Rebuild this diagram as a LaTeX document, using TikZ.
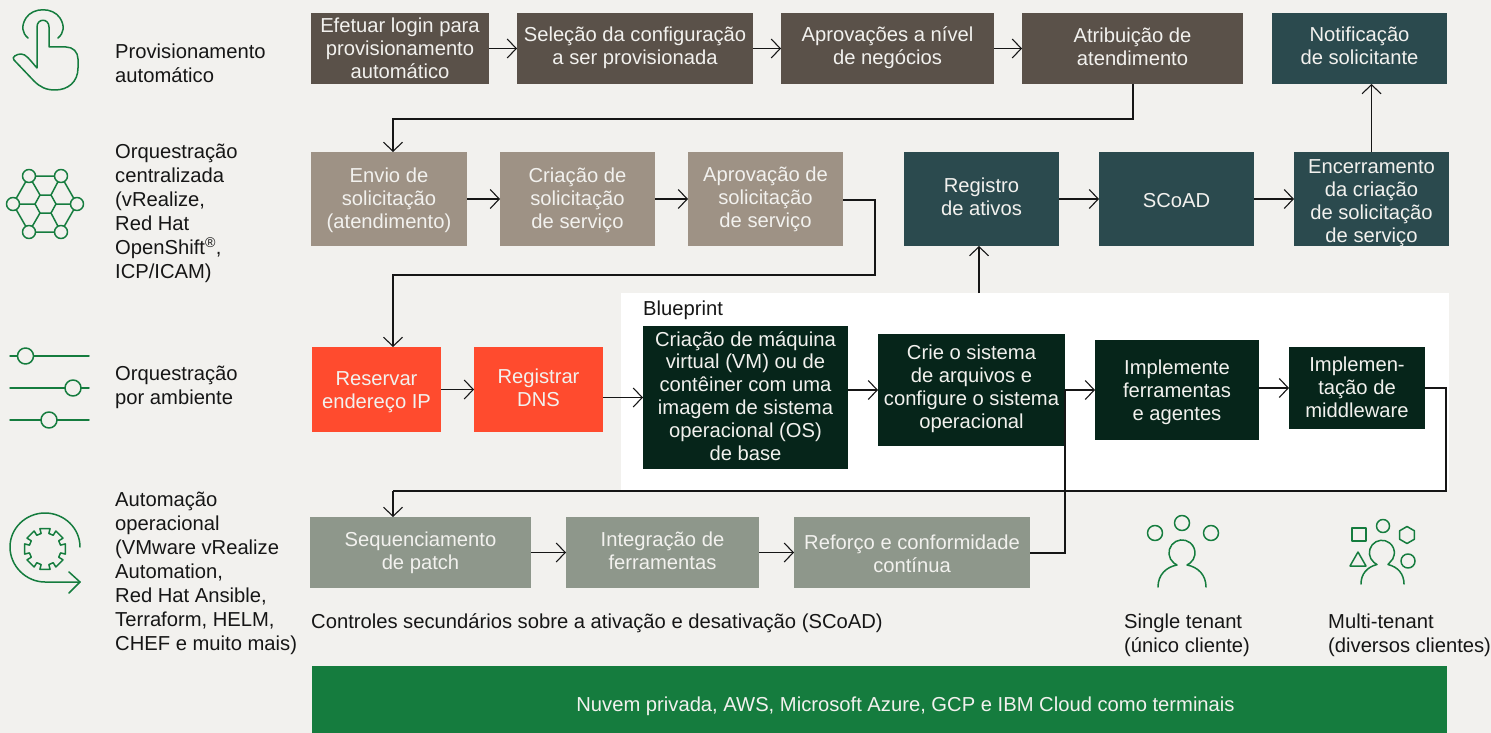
\documentclass[tikz,border=0pt]{standalone}
\usepackage{fontspec}
\setmainfont{Liberation Sans}
\usetikzlibrary{arrows.meta}
\definecolor{bgc}{HTML}{F2F1EE}
\definecolor{brownc}{HTML}{5A5149}
\definecolor{tealc}{HTML}{2B4A4E}
\definecolor{taupec}{HTML}{9E9285}
\definecolor{redc}{HTML}{FF4B2E}
\definecolor{darkc}{HTML}{06251A}
\definecolor{sagec}{HTML}{8E978B}
\definecolor{greenc}{HTML}{157C3E}
\definecolor{inkc}{HTML}{161616}
\tikzset{
  boxbase/.style={draw=none,inner sep=0pt,outer sep=0pt},
  boxtext/.style={align=center,text=#1,inner sep=0pt,font=\fontsize{20.2}{22.9}\selectfont},
  plain/.style={align=left,text=inkc,inner sep=0pt,anchor=west,font=\fontsize{20.2}{24}\selectfont},
  conn/.style={draw=inkc,line width=1.1pt},
  arr/.style={conn,-{Straight Barb[length=9pt,width=19pt,line width=1.1pt]}},
  icon/.style={draw=greenc,line width=1.5pt,line join=round,line cap=round},
}
% name, fill, x0, y0, x1, y1, text y offset (positive is up), text colour, text
\newcommand{\bx}[9]{%
  \node[boxbase,fill=#2,minimum width=#5pt-#3pt,minimum height=#6pt-#4pt,anchor=center] (#1) at ({(#3+#5)/2},{(#4+#6)/2}) {};
  \node[boxtext=#8] (#1t) at ([yshift=#7pt]#1.center) {#9};
}
\begin{document}
\begin{tikzpicture}[x=1pt,y=-1pt]
\useasboundingbox (0,0) rectangle (1491,733);
\fill[bgc] (0,0) rectangle (1491,733);
\fill[white] (621,293) rectangle (1449,490);

% icons
\draw[icon] (28,38) .. controls (22,33) and (21,26) .. (26,18) .. controls (33,7) and (53,7) .. (60,18) .. controls (65,26) and (64,33) .. (58,38);
\draw[icon] (37,68) -- (37,27) .. controls (37,18) and (49,18) .. (49,27) -- (49,47) -- (66,47) .. controls (73,47) and (78,52) .. (78,59) -- (78,68) .. controls (78,82) and (68,90) .. (55,90) .. controls (46,90) and (40,87) .. (34,81) -- (14,60) .. controls (11,57) and (17,54) .. (21,54) .. controls (26,54) and (29,59) .. (37,68);

\draw[icon] (29,176) -- (61,176) -- (77,204) -- (61,232) -- (29,232) -- (13,204) -- cycle;
\draw[icon] (40,195) -- (51,195) -- (56,204) -- (51,213) -- (40,213) -- (35,204) -- cycle;
\draw[icon] (29,176) -- (40,195) (61,176) -- (51,195) (13,204) -- (35,204) (77,204) -- (56,204) (29,232) -- (40,213) (61,232) -- (51,213);
\foreach \p in {(29,176),(61,176),(13,204),(77,204),(29,232),(61,232)}
  \filldraw[icon,fill=bgc] \p circle (6.5);

\foreach \yy/\cx in {356/25.5,388/73,420/49}{
  \draw[icon] (10,\yy) -- (89,\yy);
  \filldraw[icon,fill=bgc] (\cx,\yy) circle (8);
}

\draw[icon] (80,547) .. controls (80,528) and (64,513) .. (45,513) .. controls (26,513) and (10,528) .. (10,547) .. controls (10,566) and (26,582) .. (45,582) -- (80,582);
\draw[icon] (69,572) -- (80,582) -- (69,593);
\begin{scope}[shift={(45,549)}]
\draw[icon] (-14:16) \foreach \a in {0,45,...,315}{ -- (\a-14:16) -- (\a-14:21) -- (\a+14:21) -- (\a+14:16)} -- cycle;
\end{scope}

\foreach \p in {(1155,533),(1182,523),(1211,533)}
  \draw[icon] \p circle (7.5);
\draw[icon] (1158,587) .. controls (1158,575) and (1166,567) .. (1177,565) -- (1173.8,563) arc[start angle=129,end angle=411,radius=13] -- (1187,565) .. controls (1198,567) and (1206,575) .. (1206,587);

\draw[icon] (1352,528) rectangle (1366,541);
\draw[icon] (1383,526) circle (6.5);
\draw[icon] (1407,526.5) -- (1414.4,530.8) -- (1414.4,539.2) -- (1407,543.5) -- (1399.6,539.2) -- (1399.6,530.8) -- cycle;
\draw[icon] (1358,552) -- (1366,566) -- (1350,566) -- cycle;
\draw[icon] (1408,561) circle (7);
\draw[icon] (1361,584) .. controls (1361,574) and (1367,567) .. (1377,564.5) -- (1374,562.5) arc[start angle=129,end angle=411,radius=12.5] -- (1388,564.5) .. controls (1398,567) and (1404,574) .. (1404,584);

% connector helpers
\coordinate (c1a) at (1133,119); \coordinate (c1b) at (393,119);
\coordinate (c2a) at (875,200); \coordinate (c2b) at (875,275); \coordinate (c2c) at (393,275);
\coordinate (c3a) at (1446,388); \coordinate (c3b) at (1446,491); \coordinate (c3c) at (393,491);
\coordinate (c4a) at (1065,553);
\coordinate (bpt) at (979,293);

% row 1
\bx{r1a}{brownc}{311}{13}{489}{84}{0}{bgc}{Efetuar login para\\provisionamento\\automático}
\bx{r1b}{brownc}{517}{13}{753}{84}{1}{bgc}{Seleção da configuração\\a ser provisionada}
\bx{r1c}{brownc}{781}{13}{994}{84}{1}{bgc}{Aprovações a nível\\de negócios}
\bx{r1d}{brownc}{1022}{13}{1243}{84}{2}{bgc}{Atribuição de\\atendimento}
\bx{r1e}{tealc}{1272}{13}{1447}{84}{3}{bgc}{Notificação\\de solicitante}
% row 2
\bx{r2a}{taupec}{311}{152}{467}{246}{-1}{bgc}{Envio de\\solicitação\\(atendimento)}
\bx{r2b}{taupec}{500}{152}{655}{246}{-1}{bgc}{Criação de\\solicitação\\de serviço}
\bx{r2c}{taupec}{688}{152}{843}{246}{0}{bgc}{Aprovação de\\solicitação\\de serviço}
\bx{r2d}{tealc}{904}{152}{1059}{246}{2}{bgc}{Registro\\de ativos}
\bx{r2e}{tealc}{1099}{152}{1254}{246}{-2}{bgc}{SCoAD}
\bx{r2f}{tealc}{1294}{152}{1449}{246}{-4}{bgc}{Encerramento\\da criação\\de solicitação\\de serviço}
% row 3
\bx{r3a}{redc}{312}{347}{441}{432}{-3}{bgc}{Reservar\\endereço IP}
\bx{r3b}{redc}{474}{347}{603}{432}{2}{bgc}{Registrar\\DNS}
\bx{r3c}{darkc}{643}{326}{848}{469}{1.5}{bgc}{Criação de máquina\\virtual (VM) ou de\\contêiner com uma\\imagem de sistema\\operacional (OS)\\de base}
\bx{r3d}{darkc}{878}{334}{1065}{446}{1.5}{bgc}{Crie o sistema\\de arquivos e\\configure o sistema\\operacional}
\bx{r3e}{darkc}{1095}{340}{1259}{440}{-2}{bgc}{Implemente\\ferramentas\\e agentes}
\bx{r3f}{darkc}{1289}{347}{1425}{429}{0.5}{bgc}{Implemen-\\tação de\\middleware}
% row 4
\bx{r4a}{sagec}{310}{517}{531}{588}{0}{bgc}{Sequenciamento\\de patch}
\bx{r4b}{sagec}{566}{517}{759}{588}{1.5}{bgc}{Integração de\\ferramentas}
\bx{r4c}{sagec}{794}{517}{1030}{588}{-1.5}{bgc}{Reforço e conformidade\\contínua}
\node[boxbase,fill=greenc,minimum width=1135pt,minimum height=67pt] (cloud) at (879.5,699.5) {};
\node[boxtext=bgc] (cloudt) at (905.5,706) {Nuvem privada, AWS, Microsoft Azure, GCP e IBM Cloud como terminais};

% connectors
\draw[arr] (r1a.east) -- (r1b.west);
\draw[arr] (r1b.east) -- (r1c.west);
\draw[arr] (r1c.east) -- (r1d.west);
\draw[arr] (r1d.south -| c1a) -- (c1a) -- (c1b) -- (r2a.north -| c1b);
\draw[arr] (r2a.east) -- (r2b.west);
\draw[arr] (r2b.east) -- (r2c.west);
\draw[arr] (r2c.east |- c2a) -- (c2a) -- (c2b) -- (c2c) -- (r3a.north -| c2c);
\draw[arr] (r2d.east) -- (r2e.west);
\draw[arr] (r2e.east) -- (r2f.west);
\draw[arr] (r2f.north) -- (r1e.south -| r2f.north);
\draw[arr] (bpt) -- (r2d.south -| bpt);
\draw[arr] (r3a.east) -- (r3b.west);
\draw[arr] (r3b.east |- r3c.west) -- (r3c.west);
\draw[arr] (r3c.east |- r3d.center) -- (r3d.west);
\draw[arr] (r3d.east |- r3e.center) -- (r3e.west);
\draw[arr] (r3e.east |- r3f.center) -- (r3f.west);
\draw[conn] (r3f.east |- c3a) -- (c3a) -- (c3b) -- (c3c);
\draw[arr] (c3c) -- (r4a.north -| c3c);
\draw[arr] (r4a.east) -- (r4b.west);
\draw[arr] (r4b.east) -- (r4c.west);
\draw[conn] (r4c.east |- c4a) -- (c4a) -- (r3d.east |- r3e.center);

% labels
\node[plain] (l1) at (115,63) {Provisionamento\\automático};
\node[plain] (l2) at (115,213.5) {Orquestração\\centralizada\\(vRealize,\\Red Hat\\OpenShift\textsuperscript{®},\\ICP/ICAM)};
\node[plain] (l3) at (115,387) {Orquestração\\por ambiente};
\node[plain] (l4) at (115,573) {Automação\\operacional\\(VMware vRealize\\Automation,\\Red Hat Ansible,\\Terraform, HELM,\\CHEF e muito mais)};
\node[plain] (l5) at (643,310) {Blueprint};
\node[plain] (l6) at (311,623) {Controles secundários sobre a ativação e desativação (SCoAD)};
\node[plain] (l7) at (1124,635) {Single tenant\\(único cliente)};
\node[plain] (l8) at (1328,635) {Multi-tenant\\(diversos clientes)};
\end{tikzpicture}
\end{document}
